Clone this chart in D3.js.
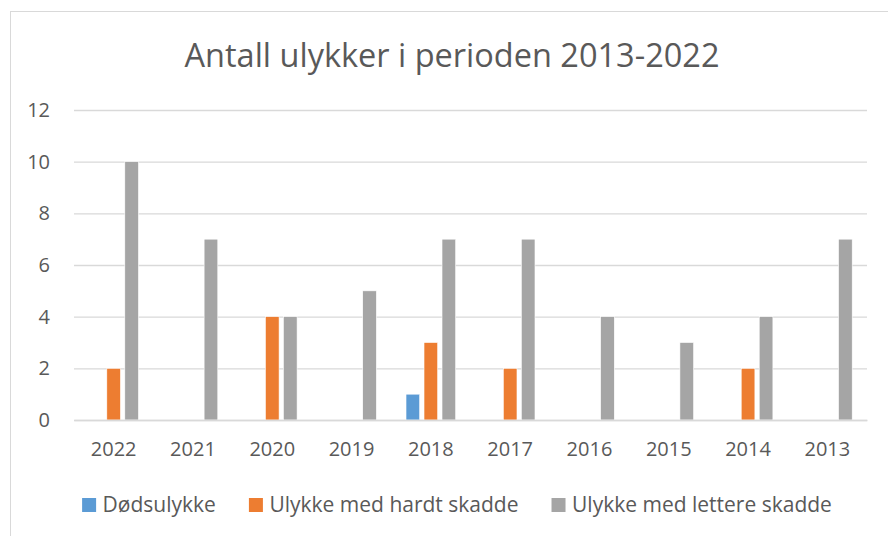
<!DOCTYPE html>
<html>
<head>
<meta charset="utf-8">
<script src="https://cdn.jsdelivr.net/npm/d3@7"></script>
<style>
  body { margin: 0; background: #fff; }
  svg { display: block; font-family: "Open Sans", "Noto Sans", sans-serif; }
</style>
</head>
<body>
<svg id="chart" width="888" height="536"></svg>
<script>
var years = ['2022','2021','2020','2019','2018','2017','2016','2015','2014','2013'];
var seriesNames = ['Dødsulykke','Ulykke med hardt skadde','Ulykke med lettere skadde'];
var dodsulykke = [0,0,0,0,1,0,0,0,0,0];
var hardtSkadde = [2,0,4,0,3,2,0,0,2,0];
var lettereSkadde = [10,7,4,5,7,7,4,3,4,7];
var yTicks = [0,2,4,6,8,10,12];
var colors = ['#5B9BD5','#ED7D31','#A5A5A5'];

var seriesValues = [dodsulykke, hardtSkadde, lettereSkadde];

var svg = d3.select('#chart');

// chart frame
svg.append('rect')
  .attr('x',10.5).attr('y',11.5)
  .attr('width',900).attr('height',560)
  .attr('fill','#fff')
  .attr('stroke','#d9d9d9')
  .attr('stroke-width',1);

var margin = {left:74, right:21, top:110, bottom:116};
var innerW = 888 - margin.left - margin.right;
var innerH = 536 - margin.top - margin.bottom;

var chart = svg.append('g')
  .attr('transform','translate('+margin.left+','+margin.top+')');

var x0 = d3.scaleBand().domain(years).range([0, innerW]);
var groupW = 54;
var x1 = d3.scaleBand().domain(seriesNames)
  .range([(x0.bandwidth()-groupW)/2, (x0.bandwidth()+groupW)/2])
  .paddingInner(0.24).paddingOuter(0.12);
var y = d3.scaleLinear().domain([0,12]).range([innerH,0]);

// gridlines
chart.append('g')
  .call(d3.axisLeft(y).tickValues(yTicks).tickSize(-innerW).tickFormat(''))
  .call(function(g){
    g.select('.domain').remove();
    g.selectAll('line').attr('stroke','#d9d9d9').attr('stroke-width',1.3);
  });

// y labels
chart.append('g')
  .call(d3.axisLeft(y).tickValues(yTicks).tickSize(0).tickPadding(24))
  .call(function(g){
    g.select('.domain').remove();
    g.selectAll('text')
      .attr('fill','#595959')
      .style('font-size','20px')
      .style('font-family','"Open Sans", sans-serif');
  });

// bars
var rows = years.map(function(yr,i){
  return seriesNames.map(function(s,j){ return {year:yr, series:s, value:seriesValues[j][i], idx:j}; });
});

chart.selectAll('.grp')
  .data(rows)
  .enter()
  .append('g')
  .attr('class','grp')
  .attr('transform',function(d,i){ return 'translate('+x0(years[i])+',0)'; })
  .selectAll('rect')
  .data(function(d){ return d.filter(function(e){ return e.value>0; }); })
  .enter()
  .append('rect')
  .attr('x',function(d){ return x1(d.series); })
  .attr('width',x1.bandwidth())
  .attr('y',function(d){ return y(d.value); })
  .attr('height',function(d){ return innerH - y(d.value); })
  .attr('fill',function(d){ return colors[d.idx]; })
  .attr('stroke','#fff')
  .attr('stroke-width',0.6);

// x axis
chart.append('g')
  .attr('transform','translate(0,'+innerH+')')
  .call(d3.axisBottom(x0).tickSize(0).tickPadding(22))
  .call(function(g){
    g.select('.domain').attr('stroke','#d9d9d9').attr('stroke-width',1.5);
    g.selectAll('text')
      .attr('fill','#595959')
      .style('font-size','20px')
      .style('font-family','"Open Sans", sans-serif');
  });

// title
svg.append('text')
  .attr('x',452).attr('y',67)
  .attr('text-anchor','middle')
  .attr('fill','#595959')
  .style('font-size','32.5px')
  .text('Antall ulykker i perioden 2013-2022');

// legend
var legend = svg.append('g');
var items = legend.selectAll('.item')
  .data(seriesNames)
  .enter()
  .append('g')
  .attr('class','item');
items.append('rect')
  .attr('width',14).attr('height',14)
  .attr('y',-7)
  .attr('fill',function(d,i){ return colors[i]; });
items.append('text')
  .attr('x',20.5)
  .attr('dy','0.35em')
  .attr('fill','#595959')
  .style('font-size','21px')
  .text(function(d){ return d; });

var pos = 0;
items.each(function(){
  var w = this.getBBox().width;
  d3.select(this).attr('transform','translate('+pos+',0)');
  pos += w + 33;
});
var total = pos - 33;
legend.attr('transform','translate('+(457 - total/2)+',505)');
</script>
</body>
</html>
